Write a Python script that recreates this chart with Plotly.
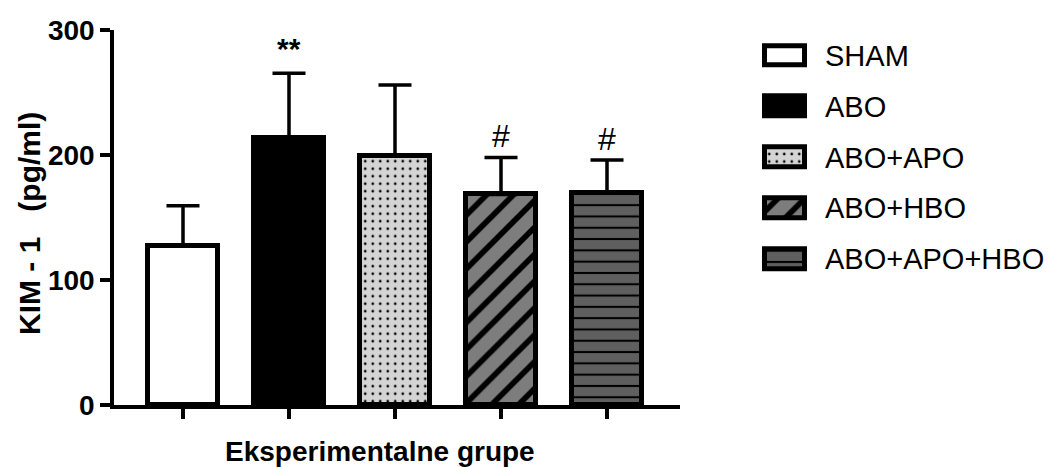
import plotly.graph_objects as go

# ---- data ----
groups = ["SHAM", "ABO", "ABO+APO", "ABO+HBO", "ABO+APO+HBO"]
means = [127, 214, 199, 168.5, 169.5]
sem_up = [32.5, 51.5, 57, 29.5, 26.5]
sig_labels = ["", "**", "", "#", "#"]
sig_y = [0, 285, 0, 215, 213]
y_ticks = [0, 100, 200, 300]

# ---- styles ----
fill_colors = ["#ffffff", "#000000", "#d4d4d4", "#7d7d7d", "#5f5f5f"]
pat_shapes = ["", "", ".", "/", "-"]
pat_sizes = [8, 8, 7.5, 19, 11.3]
pat_solid = [0.3, 0.3, 0.1, 0.3, 0.18]

FONT = "Liberation Sans, Arial, sans-serif"
W, H = 1058, 467
ML, MR, MT, MB = 114, 10, 30, 62
PW = W - ML - MR
PH = H - MT - MB


def px_x(p):
    return (p - ML) / PW


def px_y(p):
    return (H - MB - p) / PH


xpos = list(range(len(groups)))

fig = go.Figure()
for i, g in enumerate(groups):
    pat = dict(shape=pat_shapes[i], fgcolor="black", bgcolor=fill_colors[i],
               size=pat_sizes[i], solidity=pat_solid[i], fgopacity=1)
    fig.add_trace(go.Bar(
        x=[xpos[i]], y=[means[i]], width=0.655, name=g,
        marker=dict(color=fill_colors[i], line=dict(color="black", width=5),
                    pattern=pat),
        error_y=dict(type="data", array=[sem_up[i]], arrayminus=[0],
                     symmetric=False, color="black", thickness=3.5, width=16.5),
        showlegend=False, xaxis="x", yaxis="y",
    ))
    # legend swatch drawn as a small bar in its own subplot
    fig.add_trace(go.Bar(
        y=[g], x=[1], orientation="h", width=0.39, name=g,
        marker=dict(color=fill_colors[i], line=dict(color="black", width=5),
                    pattern=pat),
        showlegend=False, xaxis="x2", yaxis="y2", hoverinfo="skip",
    ))

for i, (lab, yy) in enumerate(zip(sig_labels, sig_y)):
    if not lab:
        continue
    bold = lab == "**"
    fig.add_annotation(
        x=xpos[i], y=yy, xref="x", yref="y", text=lab, showarrow=False,
        xanchor="center", yanchor="middle",
        font=dict(family=FONT, size=30 if bold else 32, color="black",
                  weight="bold" if bold else "normal"),
    )

fig.add_annotation(
    x=px_x(380), y=px_y(451), xref="paper", yref="paper",
    xanchor="center", yanchor="middle",
    text="Eksperimentalne grupe", showarrow=False,
    font=dict(family=FONT, size=28, color="black", weight="bold"),
)
fig.add_annotation(
    x=px_x(29), y=px_y(224), xref="paper", yref="paper", textangle=-90,
    xanchor="center", yanchor="middle",
    text="KIM - 1   (pg/ml)", showarrow=False,
    font=dict(family=FONT, size=30, color="black", weight="bold"),
)

fig.update_layout(
    width=W, height=H,
    margin=dict(l=ML, r=MR, t=MT, b=MB),
    plot_bgcolor="white", paper_bgcolor="white",
    barmode="overlay", bargap=0,
    xaxis=dict(
        domain=[0, px_x(680)], range=[(114 - 183) / 106, (680 - 183) / 106],
        tickvals=xpos, showticklabels=False, ticks="outside", ticklen=10,
        tickwidth=3.5, tickcolor="black", showline=True, linecolor="black",
        linewidth=3.5, showgrid=False, zeroline=False,
    ),
    yaxis=dict(
        range=[0, 300], tickvals=y_ticks, ticks="outside", ticklen=10,
        tickwidth=3.5, tickcolor="black", showline=True, linecolor="black",
        linewidth=3.5, showgrid=False, zeroline=False,
        tickfont=dict(family=FONT, size=28, color="black", weight="bold"),
    ),
    xaxis2=dict(
        domain=[px_x(758), px_x(811)], range=[-0.1625, 1.1625], anchor="y2",
        visible=False,
    ),
    yaxis2=dict(
        domain=[px_y(284.4), px_y(30.3)], range=[4.5, -0.5], anchor="x2",
        side="right", type="category", categoryarray=groups,
        categoryorder="array", showline=False, showgrid=False,
        zeroline=False, ticks="", ticklabelstandoff=13,
        tickfont=dict(family=FONT, size=29, color="black"),
    ),
)

fig.write_html(
    "out.html",
    config={"displayModeBar": False},
    post_script="document.body.style.margin='0';document.documentElement.style.overflow='hidden';",
)
